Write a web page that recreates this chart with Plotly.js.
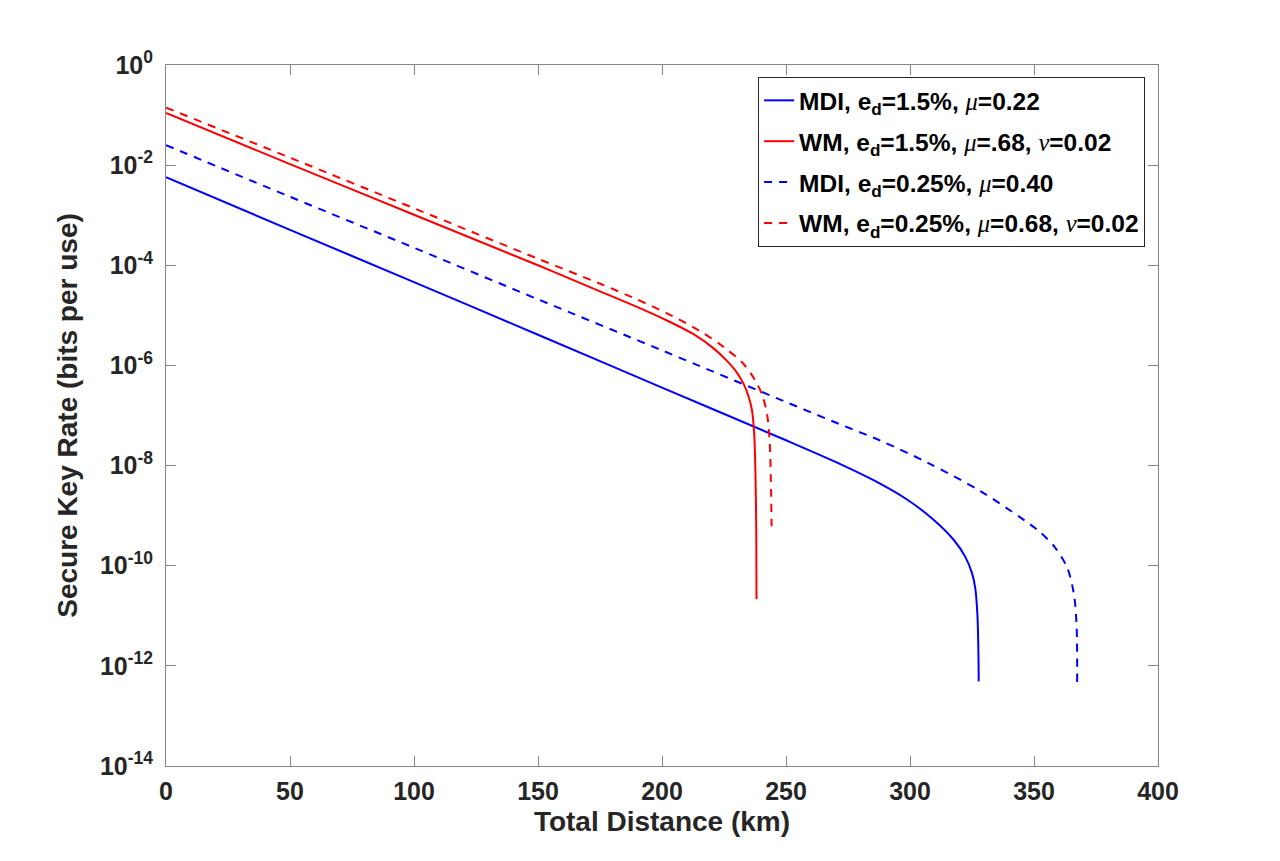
<!DOCTYPE html>
<html>
<head>
<meta charset="utf-8">
<script src="https://cdn.plot.ly/plotly-3.0.1.min.js"></script>
<style>
  body { margin: 0; background: #fff; }
  #chart { width: 1280px; height: 861px; }
</style>
</head>
<body>
<div id="chart"></div>
<script>
// Curves (distance in km, key rate in bits per use)
const mdi15X = [0, 50, 100, 150, 200, 250, 271.9, 285.3, 298.8, 309.5, 317.6, 322.3, 325.0, 326.3, 327.2, 327.6, 327.7];
const mdi15Y = [5.75e-3, 5.1e-4, 4.6e-5, 4.1e-6, 3.6e-7, 3.2e-8, 1.07e-8, 5.1e-9, 2.1e-9, 8.3e-10, 3.3e-10,
                1.5e-10, 7.1e-11, 3.6e-11, 1.0e-11, 1.6e-12, 4.9e-13];

const wm15X = [0, 50, 100, 150, 175, 188.5, 202, 212.7, 220.8, 226.2, 230.2, 232.9, 234.9, 236.3, 237.2, 237.7,
               238.0, 238.1];
const wm15Y = [0.110, 1.05e-2, 1.02e-3, 1.0e-4, 3.02e-5, 1.58e-5, 7.9e-6, 4.2e-6, 2.19e-6, 1.23e-6, 7.2e-7,
               4.27e-7, 2.4e-7, 1.26e-7, 4.0e-8, 6.3e-9, 5.0e-10, 2.14e-11];

const mdi025X = [0, 50, 100, 150, 200, 250, 275, 288, 307, 328.4, 344.6, 352, 358.5, 363.4, 366.1, 367.2, 367.4];
const mdi025Y = [2.51e-2, 2.34e-3, 2.24e-4, 2.09e-5, 2.0e-6, 1.86e-7, 5.75e-8, 3.16e-8, 1.15e-8, 3.09e-9,
                 9.1e-10, 4.9e-10, 2.3e-10, 9.1e-11, 2.69e-11, 5.75e-12, 4.57e-13];

const wm025X = [0, 50, 100, 150, 175.1, 188.5, 202, 215.5, 224.8, 232.9, 237.6, 240.3, 242.3, 243.4, 243.9, 244.2];
const wm025Y = [0.141, 1.41e-2, 1.38e-3, 1.35e-4, 4.27e-5, 2.24e-5, 1.10e-5, 4.8e-6, 2.34e-6, 1.07e-6, 5.0e-7,
                2.63e-7, 1.12e-7, 3.09e-8, 4.9e-9, 6.17e-10];

const GREEK = 'font-family:Liberation Serif;font-style:italic;font-weight:normal';
const seriesNames = [
    'MDI, e<sub>d</sub>=1.5%, <span style="' + GREEK + '">μ</span>=0.22',
    'WM, e<sub>d</sub>=1.5%, <span style="' + GREEK + '">μ</span>=.68, <span style="' + GREEK + '">ν</span>=0.02',
    'MDI, e<sub>d</sub>=0.25%, <span style="' + GREEK + '">μ</span>=0.40',
    'WM, e<sub>d</sub>=0.25%, <span style="' + GREEK + '">μ</span>=0.68, <span style="' + GREEK + '">ν</span>=0.02'
];

const xTicks = [0, 50, 100, 150, 200, 250, 300, 350, 400];
const yTickExp = [0, -2, -4, -6, -8, -10, -12, -14];

const FONT = 'Liberation Sans, Arial, Helvetica, sans-serif';
const TXT = '#262626';
const AX = '#868686';

function curve(x, y, name, color, dashed, grp) {
    return {
        x: x, y: y, name: name, mode: 'lines', legendgroup: grp,
        line: {color: color, width: 2, dash: dashed ? '8px,7px' : 'solid', shape: 'spline', smoothing: 0.9},
        hoverinfo: 'x+y'
    };
}

const data = [
    curve(mdi15X, mdi15Y, seriesNames[0], '#0000ff', false, 'a'),
    curve(wm15X, wm15Y, seriesNames[1], '#ff0000', false, 'b'),
    curve(mdi025X, mdi025Y, seriesNames[2], '#0000ff', true, 'c'),
    curve(wm025X, wm025Y, seriesNames[3], '#ff0000', true, 'd')
];

const axisCommon = {
    showgrid: false, zeroline: false,
    showline: true, linecolor: AX, linewidth: 1, mirror: 'ticks',
    ticks: 'inside', ticklen: 10, tickwidth: 1, tickcolor: AX,
    tickfont: {family: FONT, size: 25, color: TXT, weight: 'bold'}
};

const layout = {
    width: 1280, height: 861,
    paper_bgcolor: '#fff', plot_bgcolor: '#fff',
    margin: {l: 166, r: 122, t: 65, b: 95},
    showlegend: true,
    xaxis: Object.assign({}, axisCommon, {
        range: [0, 400], tickvals: xTicks,
        ticklabelstandoff: 3,
        title: {text: 'Total Distance (km)', standoff: 7,
                font: {family: FONT, size: 28, color: TXT, weight: 'bold'}}
    }),
    yaxis: Object.assign({}, axisCommon, {
        type: 'log', range: [-14, 0],
        tickvals: yTickExp.map(e => Math.pow(10, e)),
        ticktext: yTickExp.map(e => '10<sup>' + e + '</sup>'),
        ticklabelstandoff: 7,
        title: {text: 'Secure Key Rate (bits per use)', standoff: 14,
                font: {family: FONT, size: 28, color: TXT, weight: 'bold'}}
    }),
    legend: {
        x: 0.987, y: 0.983, xanchor: 'right', yanchor: 'top',
        bgcolor: '#fff', bordercolor: TXT, borderwidth: 1,
        traceorder: 'grouped', tracegroupgap: 6,
        font: {family: FONT, size: 24.5, color: '#000', weight: 'bold'}
    }
};

Plotly.newPlot('chart', data, layout, {displayModeBar: false, staticPlot: true});
</script>
</body>
</html>
